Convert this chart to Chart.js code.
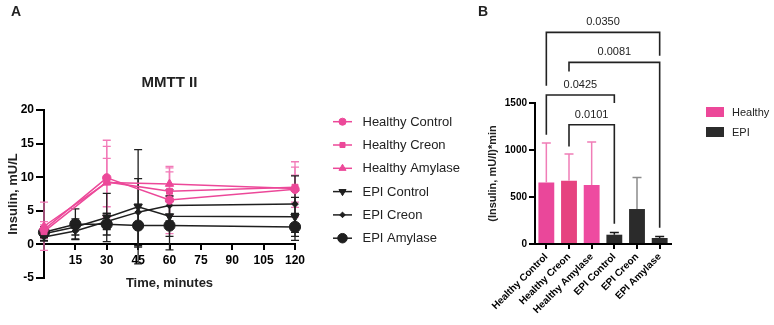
<!DOCTYPE html>
<html><head><meta charset="utf-8">
<script src="https://cdn.jsdelivr.net/npm/chart.js@4"></script>
<style>
html,body{margin:0;padding:0;background:#fff;}
#wrap{position:relative;width:774px;height:325px;overflow:hidden;background:#fff;}
canvas{position:absolute;top:0;}
</style></head><body>
<div id="wrap">
<canvas id="chartA" width="470" height="325" style="left:0"></canvas>
<canvas id="chartB" width="304" height="325" style="left:470px"></canvas>
</div>
<script>
const FONT = "'Liberation Sans', Arial, Helvetica, sans-serif";

// ---------- Panel A data ----------
const timesHealthy = [0, 30, 60, 120];
const timesEPI = [0, 15, 30, 45, 60, 120];
const seriesNames = ['Healthy Control', 'Healthy Creon', 'Healthy Amylase', 'EPI Control', 'EPI Creon', 'EPI Amylase'];
const healthyControl = [2.2, 9.9, 6.6, 8.2];
const healthyControlSD = [1.2, 5.6, 5.0, 4.1];
const healthyCreon = [1.9, 9.3, 7.9, 8.5];
const healthyCreonSD = [1.0, 5.3, 3.5, 3.0];
const healthyAmylase = [2.7, 9.2, 9.0, 8.3];
const healthyAmylaseSD = [3.6, 3.6, 1.8, 2.0];
const epiControl = [1.6, 2.6, 4.0, 5.6, 4.2, 4.1];
const epiControlSD = [1.0, 1.2, 3.6, 8.5, 3.0, 2.9];
const epiCreon = [1.1, 2.0, 3.4, 4.8, 5.8, 6.0];
const epiCreonSD = [0.6, 1.2, 1.2, 5.0, 2.3, 4.2];
const epiAmylase = [1.8, 3.0, 3.0, 2.8, 2.8, 2.6];
const epiAmylaseSD = [0.8, 2.3, 1.6, 3.2, 3.6, 2.0];
const xTicksA = [0, 15, 30, 45, 60, 75, 90, 105, 120];
const yTicksA = [-5, 0, 5, 10, 15, 20];

// ---------- Panel B data ----------
const groups = ['Healthy Control', 'Healthy Creon', 'Healthy Amylase', 'EPI Control', 'EPI Creon', 'EPI Amylase'];
const auc = [655, 673, 628, 99, 372, 64];
const aucSD = [420, 284, 457, 24, 336, 17];
const yTicksB = [0, 500, 1000, 1500];
const legendB = ['Healthy', 'EPI'];
const pComparisons = [[0, 5], [1, 5], [0, 3], [1, 3]];
const pValues = ['0.0350', '0.0081', '0.0425', '0.0101'];
const bracketTop = [2251, 1932, 1585, 1269];
const bracketLeftEnd = [1684, 1836, 1163, 1038];
const bracketRightEnd = [2003, 173, 1500, 216];

// ---------- styles ----------
const PINK = '#EC4899';
const PINK_ERR = '#F27AB8';
const DARK = '#1f1f1f';

function zip(xs, ys) { return xs.map((x, i) => ({ x: x, y: ys[i] })); }

const styleA = [
  { color: PINK, err: PINK_ERR, style: 'circle', r: 4.2, rot: 0 },
  { color: PINK, err: PINK_ERR, style: 'rect', r: 4.2, rot: 0 },
  { color: PINK, err: PINK_ERR, style: 'triangle', r: 4.8, rot: 0 },
  { color: DARK, err: DARK, style: 'triangle', r: 4.8, rot: 180 },
  { color: DARK, err: DARK, style: 'rectRot', r: 3.3, rot: 0 },
  { color: DARK, err: DARK, style: 'circle', r: 5.6, rot: 0 }
];
const valuesA = [healthyControl, healthyCreon, healthyAmylase, epiControl, epiCreon, epiAmylase];
const sdA = [healthyControlSD, healthyCreonSD, healthyAmylaseSD, epiControlSD, epiCreonSD, epiAmylaseSD];
const timesA = [timesHealthy, timesHealthy, timesHealthy, timesEPI, timesEPI, timesEPI];

const datasetsA = seriesNames.map((name, i) => ({
  label: name,
  data: zip(timesA[i], valuesA[i]),
  sd: sdA[i],
  errColor: styleA[i].err,
  borderColor: styleA[i].color,
  backgroundColor: styleA[i].color,
  pointBackgroundColor: styleA[i].color,
  pointBorderColor: styleA[i].color,
  pointStyle: styleA[i].style,
  pointRadius: styleA[i].r,
  pointRotation: styleA[i].rot,
  pointBorderWidth: 1,
  borderWidth: 1.5,
  tension: 0,
  fill: false,
  clip: false
}));

const errorBarsA = {
  id: 'errorBarsA',
  beforeDatasetsDraw(chart) {
    const ctx = chart.ctx, ys = chart.scales.y;
    chart.data.datasets.forEach((ds, i) => {
      const meta = chart.getDatasetMeta(i);
      ctx.save();
      ctx.strokeStyle = ds.errColor;
      ctx.lineWidth = 1.3;
      meta.data.forEach((el, j) => {
        const v = ds.data[j].y, e = ds.sd[j];
        const x = el.x, yt = ys.getPixelForValue(v + e), yb = ys.getPixelForValue(v - e);
        ctx.beginPath();
        ctx.moveTo(x, yt); ctx.lineTo(x, yb);
        ctx.moveTo(x - 4, yt); ctx.lineTo(x + 4, yt);
        ctx.moveTo(x - 4, yb); ctx.lineTo(x + 4, yb);
        ctx.stroke();
      });
      ctx.restore();
    });
  }
};

const decorA = {
  id: 'decorA',
  afterDraw(chart) {
    const ctx = chart.ctx, ca = chart.chartArea;
    ctx.save();
    ctx.fillStyle = '#222';
    ctx.textBaseline = 'middle';
    ctx.textAlign = 'center';
    ctx.font = 'bold 15px ' + FONT;
    ctx.fillText('MMTT II', (ca.left + ca.right) / 2, 83);
    ctx.textAlign = 'left';
    ctx.font = 'bold 14px ' + FONT;
    ctx.fillText('A', 11, 12);
    // legend
    ctx.font = '13px ' + FONT;
    chart.data.datasets.forEach((ds, i) => {
      const y = 121.7 + i * 23.3;
      ctx.strokeStyle = ds.borderColor;
      ctx.lineWidth = 1.5;
      ctx.beginPath(); ctx.moveTo(333, y); ctx.lineTo(352, y); ctx.stroke();
      ctx.fillStyle = ds.pointBackgroundColor;
      ctx.strokeStyle = ds.pointBorderColor;
      ctx.lineWidth = 1;
      Chart.helpers.drawPoint(ctx, { pointStyle: ds.pointStyle, radius: ds.pointRadius * 0.85, rotation: ds.pointRotation, borderWidth: 1 }, 342.5, y);
      ctx.fillStyle = '#222';
      ctx.fillText(ds.label, 362.5, y + 0.5);
    });
    ctx.restore();
  }
};

new Chart(document.getElementById('chartA'), {
  type: 'line',
  data: { datasets: datasetsA },
  options: {
    responsive: false,
    animation: false,
    events: [],
    layout: { padding: { top: 110, right: 175, bottom: 47, left: 0 } },
    plugins: { legend: { display: false }, title: { display: false }, tooltip: { enabled: false } },
    scales: {
      x: {
        type: 'linear',
        position: { y: 0 },
        min: 0, max: 120,
        afterBuildTicks(s) { s.ticks = xTicksA.map(v => ({ value: v })); },
        ticks: {
          callback: v => (v === 0 ? '' : String(v)),
          color: '#000', font: { family: FONT, size: 12, weight: 'bold' }, padding: 4, maxRotation: 0, autoSkip: false
        },
        grid: { drawOnChartArea: false, drawTicks: true, tickLength: 5, color: '#000', lineWidth: 2 },
        border: { display: true, color: '#000', width: 2 },
        title: { display: true, text: 'Time, minutes', color: '#222', font: { family: FONT, size: 13, weight: 'bold' }, padding: { top: 4, bottom: 0 } }
      },
      y: {
        min: -5, max: 20,
        afterBuildTicks(s) { s.ticks = yTicksA.map(v => ({ value: v })); },
        afterFit(s) { s.width = 44; },
        ticks: { color: '#000', font: { family: FONT, size: 12, weight: 'bold' }, padding: 2 },
        grid: { drawOnChartArea: false, drawTicks: true, tickLength: 8, color: '#000', lineWidth: 2 },
        border: { display: true, color: '#000', width: 2 },
        title: { display: true, text: 'Insulin, mU/L', color: '#222', font: { family: FONT, size: 13, weight: 'bold' }, padding: { top: 6, bottom: 0 } }
      }
    }
  },
  plugins: [errorBarsA, decorA]
});

// ---------- Panel B ----------
const barColors = ['#EA479A', '#E6437F', '#EE4BA0', '#2B2B2B', '#2B2B2B', '#2B2B2B'];
const errColorsB = ['#F07DB7', '#F07DB7', '#F07DB7', '#1a1a1a', '#8C8C8C', '#1a1a1a'];
const legendColorsB = ['#EC4899', '#2B2B2B'];

const decorB = {
  id: 'decorB',
  afterDatasetsDraw(chart) {
    const ctx = chart.ctx, ys = chart.scales.y;
    const meta = chart.getDatasetMeta(0);
    ctx.save();
    ctx.lineWidth = 1.5;
    meta.data.forEach((el, j) => {
      const x = el.x, y0 = ys.getPixelForValue(auc[j]), y1 = ys.getPixelForValue(auc[j] + aucSD[j]);
      ctx.strokeStyle = errColorsB[j];
      ctx.beginPath();
      ctx.moveTo(x, y0); ctx.lineTo(x, y1);
      ctx.moveTo(x - 4.5, y1); ctx.lineTo(x + 4.5, y1);
      ctx.stroke();
    });
    ctx.restore();
  },
  afterDraw(chart) {
    const ctx = chart.ctx, xs = chart.scales.x, ys = chart.scales.y;
    ctx.save();
    // brackets
    ctx.strokeStyle = '#222';
    ctx.lineWidth = 1.6;
    ctx.lineJoin = 'miter';
    ctx.fillStyle = '#222';
    ctx.font = '11px ' + FONT;
    ctx.textAlign = 'center';
    ctx.textBaseline = 'middle';
    pComparisons.forEach((pair, k) => {
      const xa = xs.getPixelForValue(pair[0]), xb = xs.getPixelForValue(pair[1]);
      const yt = ys.getPixelForValue(bracketTop[k]);
      ctx.beginPath();
      ctx.moveTo(xa, ys.getPixelForValue(bracketLeftEnd[k]));
      ctx.lineTo(xa, yt);
      ctx.lineTo(xb, yt);
      ctx.lineTo(xb, ys.getPixelForValue(bracketRightEnd[k]));
      ctx.stroke();
      ctx.fillText(pValues[k], (xa + xb) / 2, yt - 10);
    });
    // label B
    ctx.textAlign = 'left';
    ctx.font = 'bold 14px ' + FONT;
    ctx.fillText('B', 8, 12);
    // legend
    ctx.font = '11px ' + FONT;
    legendB.forEach((name, i) => {
      const y = 112 + i * 20;
      ctx.fillStyle = legendColorsB[i];
      ctx.fillRect(236, y - 5, 18, 10);
      ctx.fillStyle = '#222';
      ctx.fillText(name, 262, y + 0.5);
    });
    ctx.restore();
  }
};

new Chart(document.getElementById('chartB'), {
  type: 'bar',
  data: {
    labels: groups,
    datasets: [{
      data: auc,
      backgroundColor: barColors,
      borderWidth: 0,
      barPercentage: 0.7,
      categoryPercentage: 1
    }]
  },
  options: {
    responsive: false,
    animation: false,
    events: [],
    layout: { padding: { top: 103, right: 103, bottom: 0, left: 0 } },
    plugins: { legend: { display: false }, title: { display: false }, tooltip: { enabled: false } },
    scales: {
      x: {
        afterFit(s) { s.height = 81; },
        ticks: { color: '#000', font: { family: FONT, size: 10, weight: 'bold' }, maxRotation: 45, minRotation: 45, padding: 2, autoSkip: false },
        grid: { offset: false, drawOnChartArea: false, drawTicks: true, tickLength: 5, color: '#000', lineWidth: 2 },
        border: { display: true, color: '#000', width: 2 }
      },
      y: {
        min: 0, max: 1500,
        afterBuildTicks(s) { s.ticks = yTicksB.map(v => ({ value: v })); },
        ticks: { callback: v => String(v), color: '#000', font: { family: FONT, size: 10, weight: 'bold' }, padding: 2 },
        afterFit(s) { s.width = 65; },
        grid: { drawOnChartArea: false, drawTicks: true, tickLength: 6, color: '#000', lineWidth: 2 },
        border: { display: true, color: '#000', width: 2 },
        title: { display: true, text: '(Insulin, mU/l)*min', color: '#222', font: { family: FONT, size: 11, weight: 'bold' }, padding: { top: 16, bottom: 0 } }
      }
    }
  },
  plugins: [decorB]
});
</script>
</body></html>
